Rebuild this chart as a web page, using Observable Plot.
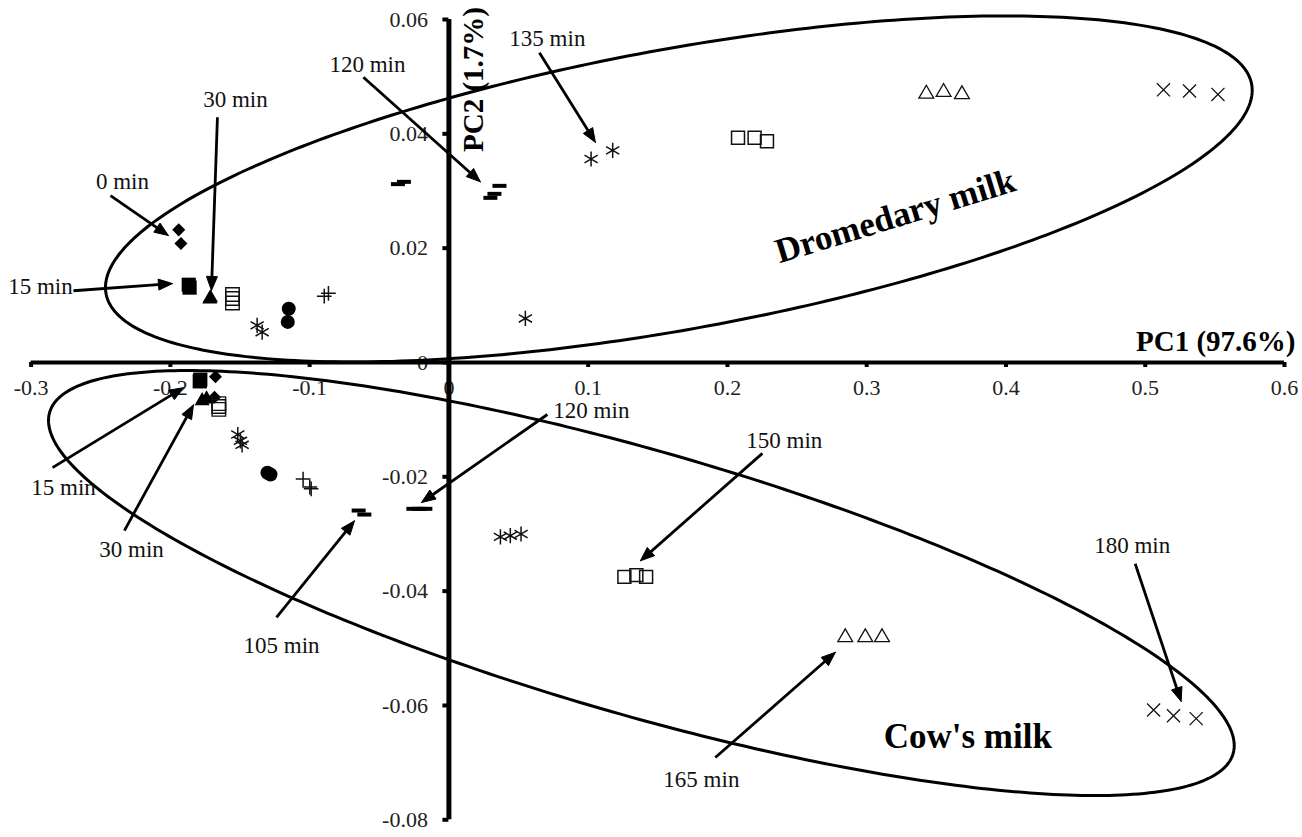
<!DOCTYPE html>
<html><head><meta charset="utf-8">
<script src="https://cdn.jsdelivr.net/npm/d3@7"></script>
<script src="https://cdn.jsdelivr.net/npm/@observablehq/plot@0.6"></script>
<style>html,body{margin:0;padding:0;background:#fff;} #chart svg{display:block;}</style>
</head><body><div id="chart"></div>
<script>
// ---- axis ticks ----
const xTickValues = [-0.3,-0.2,-0.1,0,0.1,0.2,0.3,0.4,0.5,0.6];
const xTickLabels = ["-0.3","-0.2","-0.1","0","0.1","0.2","0.3","0.4","0.5","0.6"];
const yTickValues = [-0.08,-0.06,-0.04,-0.02,0,0.02,0.04,0.06];
const yTickLabels = ["-0.08","-0.06","-0.04","-0.02","0","0.02","0.04","0.06"];

// ---- Dromedary milk scores (time in min, PC1, PC2) ----
const dromTime = [0,0, 15,15, 30,30, 45,45,45, 60,60, 75,75, 90,90, 105,105, 120,120,120, 135,135,135, 150,150,150, 165,165,165, 180,180,180];
const dromPC1  = [-0.1940,-0.1924, -0.1868,-0.1862, -0.1717,-0.1712, -0.1554,-0.1554,-0.1554, -0.1377,-0.1341, -0.1150,-0.1157, -0.0895,-0.0865, -0.0366,-0.0323, 0.0363,0.0327,0.0298, 0.1021,0.1176,0.0549, 0.2076,0.2195,0.2284, 0.3428,0.3552,0.3684, 0.5131,0.5318,0.5522];
const dromPC2  = [0.0232,0.0208, 0.0136,0.0131, 0.0111,0.0113, 0.0119,0.0112,0.0104, 0.0065,0.0053, 0.0094,0.0071, 0.0116,0.0121, 0.0312,0.0316, 0.0309,0.0295,0.0288, 0.0356,0.0371,0.0077, 0.0393,0.0393,0.0387, 0.0470,0.0473,0.0469, 0.0477,0.0475,0.0469];

// ---- Cow's milk scores ----
const cowTime = [0,0, 15,15, 30,30, 45,45,45, 60,60,60, 75,75, 90,90,90, 105,105, 120,120,120, 135,135,135, 150,150,150, 165,165,165, 180,180,180];
const cowPC1  = [-0.1676,-0.1683, -0.1789,-0.1785, -0.1772,-0.1740, -0.1652,-0.1652,-0.1652, -0.1516,-0.1497,-0.1485, -0.1303,-0.1281, -0.1047,-0.0999,-0.0989, -0.0648,-0.0607, -0.0255,-0.0212,-0.0169, 0.0370,0.0441,0.0518, 0.1260,0.1346,0.1416, 0.2846,0.2990,0.3110, 0.5060,0.5203,0.5366];
const cowPC2  = [-0.0025,-0.0061, -0.0033,-0.0030, -0.0067,-0.0064, -0.0072,-0.0077,-0.0082, -0.0126,-0.0137,-0.0144, -0.0193,-0.0196, -0.0204,-0.0218,-0.0221, -0.0259,-0.0266, -0.0256,-0.0256,-0.0256, -0.0305,-0.0303,-0.0300, -0.0375,-0.0372,-0.0375, -0.0481,-0.0481,-0.0481, -0.0608,-0.0618,-0.0623];

// ---- time annotations: label text/position and arrow start/tip ----
const noteText = ["0 min","15 min","30 min","120 min","135 min","15 min","30 min","105 min","120 min","150 min","165 min","180 min"];
const noteX    = [-0.2344,-0.2933,-0.1533,-0.0585,0.0707,-0.2767,-0.2279,-0.1202,0.1023,0.2408,0.1813,0.4906];
const noteY    = [0.0317,0.0133,0.0460,0.0521,0.0567,-0.0219,-0.0327,-0.0495,-0.0084,-0.0137,-0.0730,-0.0320];
const arrowX1  = [-0.2430,-0.2696,-0.1662,-0.0614,0.0650,-0.2846,-0.2330,-0.1238,0.0707,0.2251,0.1913,0.4928];
const arrowY1  = [0.0292,0.01255,0.0429,0.0499,0.0542,-0.0184,-0.0294,-0.0446,-0.0091,-0.0159,-0.0691,-0.0352];
const arrowX2  = [-0.2014,-0.1985,-0.1705,0.0226,0.1052,-0.1906,-0.1834,-0.0678,-0.0197,0.1375,0.2775,0.5258];
const arrowY2  = [0.0222,0.0138,0.0126,0.0316,0.0385,-0.0044,-0.0074,-0.0277,-0.0245,-0.0347,-0.0507,-0.0593];

// ---- group outlines (ellipse centre and conjugate semi-diameters, data units) ----
const ellipseName = ["Dromedary milk","Cow's milk"];
const ellipseCX = [0.1651, 0.1382];
const ellipseCY = [0.03036, -0.03858];
const ellipseAX = [0.4117, 0.4257];
const ellipseAY = [0.01724, -0.02843];
const ellipseBY = [0.02488, 0.02395];

// ---- layout ----
const W = 1302, H = 837, ML = 30.6, MR = 18, MT = 19, MB = 17.7;
const XD = [-0.3, 0.6], YD = [-0.08, 0.06];
const kx = (W - ML - MR) / (XD[1] - XD[0]);
const ky = (H - MT - MB) / (YD[1] - YD[0]);

const rows = [];
dromTime.forEach((t, i) => rows.push({milk: "Dromedary", time: t, pc1: dromPC1[i], pc2: dromPC2[i]}));
cowTime.forEach((t, i) => rows.push({milk: "Cow", time: t, pc1: cowPC1[i], pc2: cowPC2[i]}));

const ellipsePts = [];
ellipseName.forEach((name, e) => {
  for (let k = 0; k <= 360; k++) {
    const t = k * Math.PI / 180;
    ellipsePts.push({name, x: ellipseCX[e] + ellipseAX[e] * Math.cos(t),
                     y: ellipseCY[e] + ellipseAY[e] * Math.cos(t) + ellipseBY[e] * Math.sin(t)});
  }
});

const HEAD_L = 14, HEAD_HW = 5.5;
const shafts = [], heads = [];
noteText.forEach((lab, i) => {
  const x1 = arrowX1[i], y1 = arrowY1[i], x2 = arrowX2[i], y2 = arrowY2[i];
  const dxp = (x2 - x1) * kx, dyp = -(y2 - y1) * ky;
  const len = Math.hypot(dxp, dyp), ux = dxp / len, uy = dyp / len;
  const toData = (px, py) => ({x: x2 + px / kx, y: y2 - py / ky});
  const inner = toData(-(HEAD_L - 3) * ux, -(HEAD_L - 3) * uy);
  shafts.push({x1, y1, x2: inner.x, y2: inner.y});
  const c1 = toData(-HEAD_L * ux - HEAD_HW * uy, -HEAD_L * uy + HEAD_HW * ux);
  const c2 = toData(-HEAD_L * ux + HEAD_HW * uy, -HEAD_L * uy - HEAD_HW * ux);
  heads.push({id: i, x: x2, y: y2}, {id: i, ...c1}, {id: i, ...c2}, {id: i, x: x2, y: y2});
});

// ---- custom symbols ----
const diamondSym = {draw(ctx, size) { const h = Math.sqrt(size / 2); ctx.moveTo(0, -h); ctx.lineTo(h, 0); ctx.lineTo(0, h); ctx.lineTo(-h, 0); ctx.closePath(); }};
const dashSym = {draw(ctx, size) { const h = Math.sqrt(size) / 2; ctx.moveTo(-h, 0); ctx.lineTo(h, 0); }};

const markerStyle = [
  {time: 0,   symbol: diamondSym, r: 5.2, fill: "black", stroke: "none", sw: 0},
  {time: 15,  symbol: "square",   r: 8,   fill: "black", stroke: "none", sw: 0},
  {time: 30,  symbol: "triangle", r: 5.6, fill: "black", stroke: "none", sw: 0},
  {time: 45,  symbol: "square",   r: 7.6, fill: "none",  stroke: "#111", sw: 1.4},
  {time: 60,  symbol: "asterisk", r: 7.2, fill: "none",  stroke: "#111", sw: 1.5},
  {time: 75,  symbol: "circle",   r: 7,   fill: "black", stroke: "none", sw: 0},
  {time: 90,  symbol: "plus",     r: 4.8, fill: "none",  stroke: "#111", sw: 1.5},
  {time: 105, symbol: dashSym,    r: 7.9, fill: "none",  stroke: "black", sw: 4},
  {time: 120, symbol: dashSym,    r: 7.9, fill: "none",  stroke: "black", sw: 4},
  {time: 135, symbol: "asterisk", r: 7.2, fill: "none",  stroke: "#111", sw: 1.5},
  {time: 150, symbol: "square",   r: 7.3, fill: "none",  stroke: "#111", sw: 1.5},
  {time: 165, symbol: "triangle", r: 5.5, fill: "none",  stroke: "#111", sw: 1.3},
  {time: 180, symbol: "times",    r: 6,   fill: "none",  stroke: "#111", sw: 1.3}
];

const serif = "'Liberation Serif', 'Times New Roman', serif";
const xi = xTickValues.map((d, i) => i);
const yi = yTickValues.map((d, i) => i);

const chart = Plot.plot({
  width: W, height: H,
  marginLeft: ML, marginRight: MR, marginTop: MT, marginBottom: MB,
  x: {domain: XD, axis: null},
  y: {domain: YD, axis: null},
  style: {fontFamily: serif, background: "#fff", color: "black"},
  marks: [
    // tick labels
    Plot.text(xi, {x: i => xTickValues[i], y: 0, text: i => xTickLabels[i], dy: 25, fontSize: 22, fontFamily: serif, fill: "#222"}),
    Plot.text(yi, {x: 0, y: i => yTickValues[i], text: i => yTickLabels[i], dx: -21, textAnchor: "end", fontSize: 22, fontFamily: serif, fill: "#222"}),
    // group outlines
    Plot.line(ellipsePts, {x: "x", y: "y", z: "name", stroke: "black", strokeWidth: 3, curve: "linear"}),
    // axes through the origin
    Plot.ruleY([0], {x1: XD[0], x2: XD[1], stroke: "black", strokeWidth: 4}),
    Plot.ruleX([0], {y1: YD[0], y2: YD[1], stroke: "black", strokeWidth: 5}),
    Plot.ruleX(xTickValues, {x: d => d, y1: 0, y2: -5 / ky, stroke: "black", strokeWidth: 4}),
    Plot.ruleY(yTickValues, {y: d => d, x1: -6 / kx, x2: 0, stroke: "black", strokeWidth: 4}),
    // axis titles
    Plot.text(["PC1 (97.6%)"], {x: XD[1], y: 0, text: d => d, dx: 11, dy: -21, textAnchor: "end", fontSize: 29, fontWeight: "bold", fontFamily: serif}),
    Plot.text(["PC2 (1.7%)"], {x: 0, y: YD[1], text: d => d, dx: 25, dy: 60, rotate: -90, fontSize: 29, fontWeight: "bold", fontFamily: serif}),
    // group labels
    Plot.text(["Dromedary milk"], {x: 0.3205, y: 0.0256, text: d => d, rotate: -17, fontSize: 35, fontWeight: "bold", fontFamily: serif}),
    Plot.text(["Cow's milk"], {x: 0.3726, y: -0.0654, text: d => d, fontSize: 35, fontWeight: "bold", fontFamily: serif}),
    // score points
    ...markerStyle.map(s => Plot.dot(rows.filter(d => d.time === s.time), {
      x: "pc1", y: "pc2", symbol: s.symbol, r: s.r, fill: s.fill, stroke: s.stroke, strokeWidth: s.sw, strokeLinecap: "butt"
    })),
    // annotation arrows
    Plot.link(shafts, {x1: "x1", y1: "y1", x2: "x2", y2: "y2", stroke: "black", strokeWidth: 2.8}),
    Plot.line(heads, {x: "x", y: "y", z: "id", fill: "black", stroke: "black", strokeWidth: 1, curve: "linear"}),
    Plot.text(noteText.map((d, i) => i), {x: i => noteX[i], y: i => noteY[i], text: i => noteText[i], fontSize: 23, fontFamily: serif, fill: "#111"})
  ]
});
document.getElementById("chart").appendChild(chart);
</script>
</body></html>
